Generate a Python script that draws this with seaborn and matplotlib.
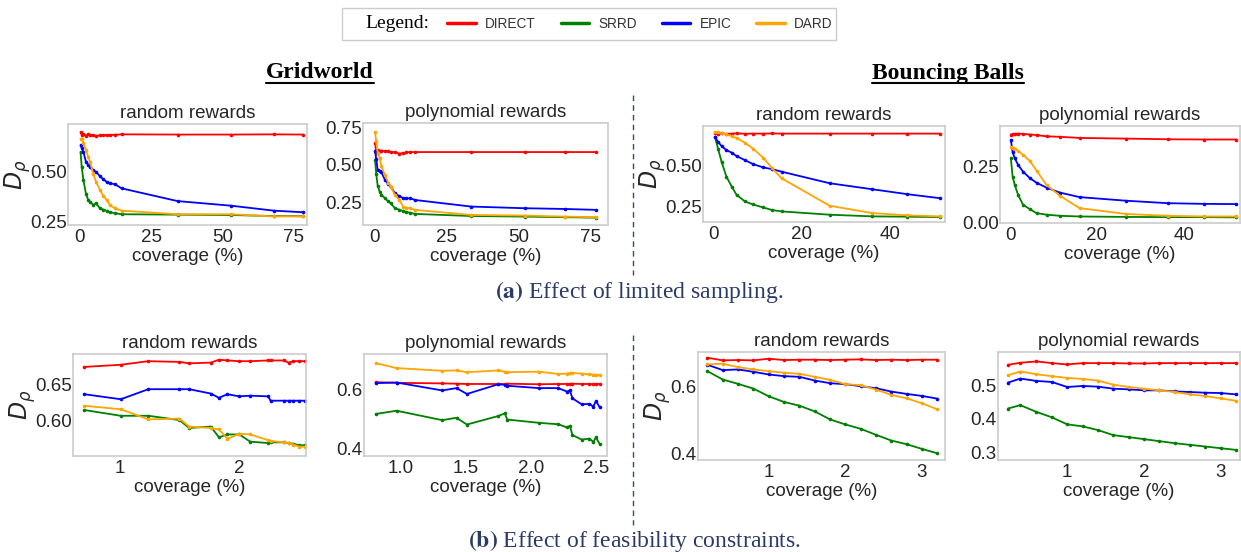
import pandas as pd
import matplotlib.pyplot as plt
import seaborn as sns
from matplotlib.lines import Line2D
from matplotlib.patches import Rectangle
from matplotlib.ticker import FormatStrFormatter

sns.set_theme(style='white')
plt.rcParams['font.family'] = ['Liberation Sans', 'DejaVu Sans']

# ============================================
# data
# ============================================
METHODS = ['DIRECT', 'SRRD', 'EPIC', 'DARD']
COLORS = {'DIRECT': 'red', 'SRRD': 'green', 'EPIC': 'blue', 'DARD': 'orange'}

# (a) limited sampling - Gridworld, random rewards
GW_RAND_X = [0.2, 0.6, 1.2, 2.1, 2.9, 3.5, 4.7, 5.6, 7.0, 8.2, 9.3, 10.5, 12.3, 14.6, 34.2, 52.9, 68.0, 78.3]
GW_RAND_DIRECT = [0.70, 0.685, 0.69, 0.68, 0.69, 0.683, 0.685, 0.68, 0.683, 0.685, 0.684, 0.685, 0.686, 0.688, 0.687, 0.687, 0.688, 0.687]
GW_RAND_SRRD = [0.60, 0.525, 0.458, 0.39, 0.358, 0.35, 0.333, 0.342, 0.317, 0.31, 0.305, 0.298, 0.292, 0.287, 0.285, 0.283, 0.278, 0.277]
GW_RAND_EPIC = [0.633, 0.62, 0.60, 0.55, 0.535, 0.525, 0.508, 0.50, 0.478, 0.462, 0.45, 0.443, 0.437, 0.417, 0.353, 0.33, 0.305, 0.297]
GW_RAND_DARD = [0.665, 0.667, 0.645, 0.61, 0.575, 0.55, 0.49, 0.45, 0.41, 0.378, 0.36, 0.333, 0.317, 0.305, 0.287, 0.287, 0.276, 0.276]

# (a) Gridworld, polynomial rewards
GW_POLY_X = [0.1, 0.5, 1.0, 1.7, 2.3, 3.5, 4.7, 5.5, 7.0, 8.5, 9.9, 11.0, 12.2, 14.0, 33.5, 52.0, 66.0, 77.0]
GW_POLY_DIRECT = [0.645, 0.58, 0.60, 0.59, 0.595, 0.59, 0.592, 0.585, 0.583, 0.575, 0.578, 0.583, 0.585, 0.585, 0.585, 0.585, 0.585, 0.585]
GW_POLY_SRRD = [0.53, 0.44, 0.36, 0.32, 0.30, 0.277, 0.255, 0.243, 0.21, 0.20, 0.19, 0.185, 0.18, 0.172, 0.158, 0.154, 0.15, 0.147]
GW_POLY_EPIC = [0.59, 0.54, 0.466, 0.46, 0.45, 0.40, 0.37, 0.355, 0.31, 0.29, 0.277, 0.275, 0.277, 0.265, 0.221, 0.21, 0.205, 0.199]
GW_POLY_DARD = [0.72, 0.656, 0.58, 0.545, 0.49, 0.433, 0.38, 0.355, 0.30, 0.266, 0.22, 0.213, 0.21, 0.199, 0.165, 0.161, 0.154, 0.15]

# (a) Bouncing Balls, random rewards
BB_RAND_X = [0.4, 1.1, 1.9, 3.0, 4.2, 5.3, 7.2, 9.0, 11.3, 13.4, 15.5, 26.4, 36.0, 44.0, 51.3]
BB_RAND_DIRECT = [0.695, 0.688, 0.692, 0.688, 0.69, 0.692, 0.689, 0.69, 0.69, 0.691, 0.69, 0.69, 0.69, 0.69, 0.69]
BB_RAND_SRRD = [0.67, 0.60, 0.52, 0.43, 0.37, 0.32, 0.28, 0.262, 0.244, 0.228, 0.22, 0.20, 0.19, 0.188, 0.186]
BB_RAND_EPIC = [0.67, 0.64, 0.615, 0.59, 0.575, 0.554, 0.53, 0.506, 0.486, 0.475, 0.46, 0.39, 0.354, 0.324, 0.30]
BB_RAND_DARD = [0.70, 0.697, 0.694, 0.685, 0.675, 0.662, 0.635, 0.60, 0.545, 0.48, 0.42, 0.254, 0.21, 0.196, 0.19]

# (a) Bouncing Balls, polynomial rewards
BB_POLY_X = [0.2, 0.6, 1.1, 1.9, 3.0, 4.6, 6.1, 8.4, 11.5, 16.0, 26.7, 36.3, 44.7, 52.0]
BB_POLY_DIRECT = [0.39, 0.392, 0.393, 0.394, 0.393, 0.39, 0.388, 0.382, 0.38, 0.375, 0.372, 0.369, 0.368, 0.368]
BB_POLY_SRRD = [0.284, 0.203, 0.166, 0.12, 0.078, 0.058, 0.041, 0.034, 0.029, 0.026, 0.024, 0.023, 0.023, 0.022]
BB_POLY_EPIC = [0.365, 0.313, 0.284, 0.254, 0.225, 0.196, 0.176, 0.154, 0.132, 0.112, 0.096, 0.085, 0.082, 0.081]
BB_POLY_DARD = [0.335, 0.332, 0.328, 0.316, 0.30, 0.272, 0.23, 0.166, 0.118, 0.063, 0.037, 0.029, 0.026, 0.026]

# (b) feasibility constraints - Gridworld, random rewards
GW_RAND_F_X = [0.706, 1.01, 1.24, 1.5, 1.58, 1.76, 1.83, 1.9, 2.0, 2.09, 2.24, 2.26, 2.37, 2.41, 2.45, 2.5, 2.55]
GW_RAND_F_DIRECT = [0.675, 0.678, 0.683, 0.682, 0.680, 0.681, 0.685, 0.684, 0.683, 0.683, 0.684, 0.684, 0.684, 0.681, 0.683, 0.683, 0.683]
GW_RAND_F_SRRD = [0.615, 0.607, 0.607, 0.601, 0.590, 0.592, 0.577, 0.581, 0.581, 0.571, 0.569, 0.570, 0.570, 0.569, 0.568, 0.566, 0.566]
GW_RAND_F_EPIC = [0.637, 0.630, 0.644, 0.644, 0.644, 0.638, 0.632, 0.637, 0.634, 0.635, 0.634, 0.628, 0.628, 0.628, 0.628, 0.628, 0.628]
GW_RAND_F_DARD = [0.621, 0.616, 0.602, 0.603, 0.592, 0.590, 0.588, 0.575, 0.582, 0.581, 0.573, 0.572, 0.570, 0.569, 0.567, 0.564, 0.564]

# (b) Gridworld, polynomial rewards
GW_POLY_F_X = [0.81, 0.97, 1.32, 1.43, 1.51, 1.75, 1.8, 1.82, 2.06, 2.21, 2.28, 2.30, 2.32, 2.39, 2.45, 2.48, 2.50, 2.53]
GW_POLY_F_DIRECT = [0.626, 0.624, 0.622, 0.621, 0.620, 0.620, 0.620, 0.621, 0.619, 0.620, 0.620, 0.620, 0.621, 0.620, 0.620, 0.619, 0.620, 0.620]
GW_POLY_F_SRRD = [0.518, 0.529, 0.497, 0.505, 0.482, 0.511, 0.520, 0.499, 0.488, 0.483, 0.472, 0.478, 0.446, 0.431, 0.434, 0.423, 0.438, 0.415]
GW_POLY_F_EPIC = [0.623, 0.625, 0.598, 0.606, 0.586, 0.619, 0.617, 0.614, 0.606, 0.606, 0.594, 0.598, 0.571, 0.551, 0.552, 0.543, 0.562, 0.540]
GW_POLY_F_DARD = [0.691, 0.674, 0.665, 0.666, 0.660, 0.666, 0.662, 0.660, 0.662, 0.654, 0.655, 0.657, 0.658, 0.655, 0.653, 0.652, 0.651, 0.651]

# (b) Bouncing Balls, random rewards
BB_RAND_F_X = [0.2, 0.4, 0.6, 0.8, 1.0, 1.2, 1.4, 1.6, 1.8, 2.0, 2.2, 2.4, 2.6, 2.8, 3.0, 3.2]
BB_RAND_F_DIRECT = [0.685, 0.677, 0.678, 0.677, 0.682, 0.678, 0.679, 0.679, 0.678, 0.679, 0.680, 0.678, 0.679, 0.678, 0.679, 0.679]
BB_RAND_F_SRRD = [0.645, 0.620, 0.607, 0.593, 0.570, 0.553, 0.542, 0.525, 0.501, 0.486, 0.473, 0.455, 0.438, 0.427, 0.413, 0.400]
BB_RAND_F_EPIC = [0.664, 0.648, 0.650, 0.643, 0.635, 0.630, 0.628, 0.617, 0.609, 0.606, 0.600, 0.594, 0.584, 0.577, 0.571, 0.563]
BB_RAND_F_DARD = [0.665, 0.667, 0.657, 0.650, 0.645, 0.640, 0.637, 0.628, 0.619, 0.606, 0.603, 0.590, 0.574, 0.564, 0.549, 0.531]

# (b) Bouncing Balls, polynomial rewards
BB_POLY_F_X = [0.23, 0.39, 0.6, 0.8, 1.0, 1.2, 1.4, 1.6, 1.8, 2.0, 2.2, 2.4, 2.6, 2.8, 3.0, 3.2]
BB_POLY_F_DIRECT = [0.561, 0.567, 0.571, 0.566, 0.562, 0.566, 0.566, 0.566, 0.565, 0.565, 0.566, 0.566, 0.566, 0.566, 0.566, 0.566]
BB_POLY_F_SRRD = [0.431, 0.441, 0.421, 0.405, 0.384, 0.378, 0.367, 0.352, 0.346, 0.340, 0.334, 0.328, 0.323, 0.318, 0.313, 0.308]
BB_POLY_F_EPIC = [0.508, 0.520, 0.513, 0.510, 0.495, 0.498, 0.496, 0.490, 0.488, 0.485, 0.485, 0.482, 0.480, 0.478, 0.477, 0.473]
BB_POLY_F_DARD = [0.530, 0.541, 0.533, 0.527, 0.522, 0.519, 0.514, 0.502, 0.495, 0.490, 0.485, 0.480, 0.473, 0.468, 0.461, 0.454]

W, H = 1241, 552


def px_rect(x0, y0, x1, y1):
    """pixel box (top-left origin) -> figure fraction rect"""
    return [x0 / W, 1 - y1 / H, (x1 - x0) / W, (y1 - y0) / H]


PANELS = [
    dict(x=GW_RAND_X, ys=[GW_RAND_DIRECT, GW_RAND_SRRD, GW_RAND_EPIC, GW_RAND_DARD],
         rect=px_rect(68, 124, 307, 225), title='random rewards', ylabel=True,
         xlim=(-4.2, 79.6), ylim=(0.233, 0.74), xt=[0, 25, 50, 75], yt=[0.25, 0.50],
         xfmt='%d', yfmt='%.2f'),
    dict(x=GW_POLY_X, ys=[GW_POLY_DIRECT, GW_POLY_SRRD, GW_POLY_EPIC, GW_POLY_DARD],
         rect=px_rect(363, 123, 608, 225), title='polynomial rewards', ylabel=False,
         xlim=(-4.1, 81.0), ylim=(0.098, 0.779), xt=[0, 25, 50, 75], yt=[0.25, 0.50, 0.75],
         xfmt='%d', yfmt='%.2f'),
    dict(x=BB_RAND_X, ys=[BB_RAND_DIRECT, BB_RAND_SRRD, BB_RAND_EPIC, BB_RAND_DARD],
         rect=px_rect(703, 126, 945, 222), title='random rewards', ylabel=True,
         xlim=(-2.3, 52.5), ylim=(0.156, 0.736), xt=[0, 20, 40], yt=[0.25, 0.50],
         xfmt='%d', yfmt='%.2f'),
    dict(x=BB_POLY_X, ys=[BB_POLY_DIRECT, BB_POLY_SRRD, BB_POLY_EPIC, BB_POLY_DARD],
         rect=px_rect(1000, 126, 1240, 223), title='polynomial rewards', ylabel=False,
         xlim=(-2.3, 52.9), ylim=(-0.003, 0.428), xt=[0, 20, 40], yt=[0.00, 0.25],
         xfmt='%d', yfmt='%.2f'),
    dict(x=GW_RAND_F_X, ys=[GW_RAND_F_DIRECT, GW_RAND_F_SRRD, GW_RAND_F_EPIC, GW_RAND_F_DARD],
         rect=px_rect(73, 354, 306, 456), title='random rewards', ylabel=True,
         xlim=(0.611, 2.556), ylim=(0.551, 0.693), xt=[1, 2], yt=[0.60, 0.65],
         xfmt='%d', yfmt='%.2f'),
    dict(x=GW_POLY_F_X, ys=[GW_POLY_F_DIRECT, GW_POLY_F_SRRD, GW_POLY_F_EPIC, GW_POLY_F_DARD],
         rect=px_rect(364, 354, 607, 456), title='polynomial rewards', ylabel=False,
         xlim=(0.72, 2.585), ylim=(0.375, 0.722), xt=[1.0, 1.5, 2.0, 2.5], yt=[0.4, 0.6],
         xfmt='%.1f', yfmt='%.1f'),
    dict(x=BB_RAND_F_X, ys=[BB_RAND_F_DIRECT, BB_RAND_F_SRRD, BB_RAND_F_EPIC, BB_RAND_F_DARD],
         rect=px_rect(698, 352, 945, 460), title='random rewards', ylabel=True,
         xlim=(0.078, 3.30), ylim=(0.38, 0.702), xt=[1, 2, 3], yt=[0.4, 0.6],
         xfmt='%d', yfmt='%.1f'),
    dict(x=BB_POLY_F_X, ys=[BB_POLY_F_DIRECT, BB_POLY_F_SRRD, BB_POLY_F_EPIC, BB_POLY_F_DARD],
         rect=px_rect(998, 352, 1240, 460), title='polynomial rewards', ylabel=False,
         xlim=(0.10, 3.25), ylim=(0.278, 0.599), xt=[1, 2, 3], yt=[0.3, 0.4, 0.5],
         xfmt='%d', yfmt='%.1f'),
]

TEXT_COL = '#262626'
CAPTION_COL = '#2b3a67'

fig = plt.figure(figsize=(W / 100, H / 100), dpi=100)

for p in PANELS:
    ax = fig.add_axes(p['rect'])
    n = len(p['x'])
    df = pd.DataFrame({
        'coverage': p['x'] * 4,
        'value': [v for ys in p['ys'] for v in ys],
        'method': [m for m in METHODS for _ in range(n)],
    })
    sns.lineplot(data=df, x='coverage', y='value', hue='method', hue_order=METHODS,
                 palette=COLORS, marker='o', markersize=2.6, markeredgewidth=0,
                 linewidth=1.3, legend=False, ax=ax)
    ax.set_xlim(*p['xlim'])
    ax.set_ylim(*p['ylim'])
    ax.set_xticks(p['xt'])
    ax.set_yticks(p['yt'])
    ax.xaxis.set_major_formatter(FormatStrFormatter(p['xfmt']))
    ax.yaxis.set_major_formatter(FormatStrFormatter(p['yfmt']))
    ax.tick_params(labelsize=13.5, length=0, colors=TEXT_COL)
    ax.tick_params(axis='y', pad=1)
    ax.tick_params(axis='x', pad=3)
    ax.set_title(p['title'], fontsize=13.5, color=TEXT_COL, pad=4)
    ax.set_xlabel('coverage (%)', fontsize=13.5, color=TEXT_COL, labelpad=1)
    if p['ylabel']:
        ax.set_ylabel(r'$D_\rho$', fontsize=17, color=TEXT_COL, labelpad=-2)
    else:
        ax.set_ylabel('')
    for sp in ax.spines.values():
        sp.set_color('#cccccc')
        sp.set_linewidth(1.2)

# legend box across the top
fig.add_artist(Rectangle((342 / W, 1 - 40 / H), (836 - 342) / W, 32 / H,
                         transform=fig.transFigure, facecolor='white',
                         edgecolor='#cccccc', linewidth=1))
fig.text(365 / W, 1 - 24 / H, 'Legend:', family='Liberation Serif', fontsize=14,
         va='center', ha='left', color='black')
handles = [Line2D([], [], color=COLORS[m], lw=2.5) for m in METHODS]
fig.legend(handles, METHODS, ncol=4, frameon=False, loc='center',
           bbox_to_anchor=(640 / W, 1 - 24 / H), fontsize=9.8,
           handlelength=2.1, handletextpad=0.7, columnspacing=1.8,
           labelcolor='#333333')

# group titles, bold + underlined serif
renderer = fig.canvas.get_renderer()
for label, cx in [('Gridworld', 320), ('Bouncing Balls', 948)]:
    t = fig.text(cx / W, 1 - 73 / H, label, family='Liberation Serif', fontweight='bold',
                 fontsize=17, ha='center', va='center', color='black')
    bb = t.get_window_extent(renderer)
    fw, fh = fig.bbox.width, fig.bbox.height
    fig.add_artist(Line2D([bb.x0 / fw, bb.x1 / fw], [(bb.y0 + 1) / fh] * 2,
                          transform=fig.transFigure, color='black', lw=1.5))

# captions
fig.text(639 / W, 1 - 292 / H, r'$\mathbf{(a)}$ Effect of limited sampling.',
         family='Liberation Serif', math_fontfamily='stix', fontsize=17,
         ha='center', va='center', color=CAPTION_COL)
fig.text(634 / W, 1 - 541 / H, r'$\mathbf{(b)}$ Effect of feasibility constraints.',
         family='Liberation Serif', math_fontfamily='stix', fontsize=17,
         ha='center', va='center', color=CAPTION_COL)

# dashed divider between the two environments
for y0, y1 in [(95, 275), (335, 525)]:
    fig.add_artist(Line2D([633 / W, 633 / W], [1 - y0 / H, 1 - y1 / H],
                          transform=fig.transFigure, color='#2f4a80',
                          lw=1, ls=(0, (4, 3))))

fig.savefig('out.png', dpi=100)
